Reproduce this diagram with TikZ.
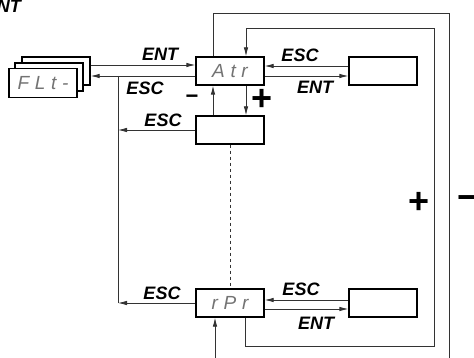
\documentclass[tikz,border=0pt]{standalone}
\usepackage{fontspec}
\setmainfont{Liberation Sans}
\newfontfamily\dispfont[LetterSpace=30]{Liberation Sans}
\usetikzlibrary{arrows.meta}

\begin{document}
\begin{tikzpicture}[x=1pt, y=-1pt,
    box/.style={draw, line width=1.3pt, fill=white, minimum width=68pt, minimum height=28pt, inner sep=0pt},
    disp/.style={font=\dispfont\itshape\fontsize{19}{19}\selectfont, text=black!55},
    arrow/.style={-{Latex[length=9pt, width=4.5pt]}, line width=0.8pt, black!80},
    wire/.style={line width=0.8pt, black!80},
    key/.style={font=\bfseries\itshape\fontsize{18}{18}\selectfont, inner sep=0pt},
    sign/.style={font=\bfseries\fontsize{36}{36}\selectfont, inner sep=0pt}
]
    \clip (0,0) rectangle (474,358);

    % Nodes
    \node[box] (flt3) at (56,71) {};
    \node[box] (flt2) at (49,77) {};
    \node[box, disp, minimum height=29pt] (flt) at (43,83) {FLt-};
    \node[box, disp] (atr) at (230,71) {Atr};
    \node[box] (atrset) at (383,71) {};
    \node[box] (mid) at (230,130) {};
    \node[box, disp] (rpr) at (230,303) {rPr};
    \node[box] (rprset) at (383,303) {};

    % Loop corners
    \coordinate (bustop) at (118,76);
    \coordinate (busbot) at (118,303);
    \coordinate (innerbot) at (434,346);
    \coordinate (innertop) at (434,28);
    \coordinate (outertop) at (449,13);
    \coordinate (outerbot) at (449,358);
    \coordinate (feed) at (215,358);

    % Transitions
    \draw[arrow] ([yshift=6pt]flt3.east) -- ([yshift=6pt]atr.west);
    \draw[arrow] ([yshift=-5pt]atr.west) -- ([yshift=-5pt]flt3.east);
    \draw[wire] (bustop) -- (busbot);
    \draw[arrow] (mid.west) -- (mid.west -| bustop);
    \draw[arrow] (rpr.west) -- (rpr.west -| bustop);
    \draw[arrow] ([yshift=5pt]atrset.west) -- ([yshift=5pt]atr.east);
    \draw[arrow] ([yshift=-5pt]atr.east) -- ([yshift=-5pt]atrset.west);
    \draw[arrow] ([yshift=3pt]rprset.west) -- ([yshift=3pt]rpr.east);
    \draw[arrow] ([yshift=-6pt]rpr.east) -- ([yshift=-6pt]rprset.west);
    \draw[arrow] ([xshift=-17pt]mid.north) -- ([xshift=-17pt]atr.south);
    \draw[arrow] ([xshift=16pt]atr.south) -- ([xshift=16pt]mid.north);
    \draw[wire, dashed] (mid.south) -- (rpr.north);
    \draw[arrow] ([xshift=15pt]rpr.south) |- (innerbot) -- (innertop) -| ([xshift=16pt]atr.north);
    \draw[wire] ([xshift=-17pt]atr.north) |- (outertop) -- (outerbot);
    \draw[arrow] (feed) -- ([xshift=-15pt]rpr.south);

    % Keys
    \node[key, anchor=south east] (entcut) at (21,13) {ENT};
    \node[key] (ent1) at (160,54) {ENT};
    \node[key] (esc1) at (145,88) {ESC};
    \node[key] (esc2) at (163,120) {ESC};
    \node[key] (esc3) at (162,293) {ESC};
    \node[key] (esc4) at (300,55) {ESC};
    \node[key] (ent2) at (315,87) {ENT};
    \node[key] (esc5) at (301,289) {ESC};
    \node[key] (ent3) at (316,323) {ENT};

    % Signs
    \node[sign, font=\bfseries\fontsize{22}{22}\selectfont] (minus1) at (192,99) {−};
    \node[sign] (plus1) at (262,100) {+};
    \node[sign] (plus2) at (419,203) {+};
    \node[sign] (minus2) at (468,203) {−};
\end{tikzpicture}
\end{document}
